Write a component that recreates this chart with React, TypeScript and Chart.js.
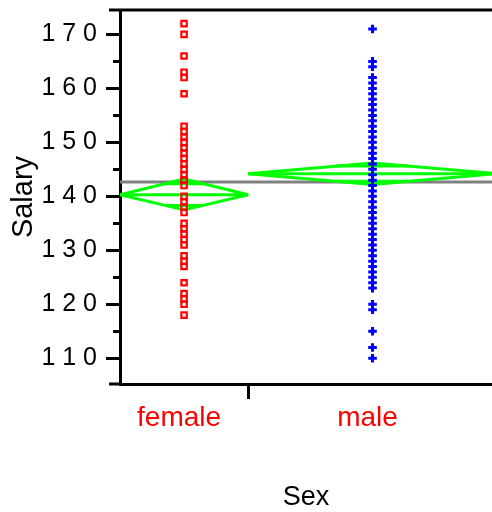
import React, { useEffect, useRef } from 'react';
import { Chart, registerables } from 'chart.js';

Chart.register(...registerables);

// ---- data ----
const groupNames = ['female', 'male'];
const groupWeights = [34, 66]; // relative widths of the groups (proportional to sample size)
const groupMeans = [140.3, 144.2];
const groupLower = [137.5, 142.2];
const groupUpper = [143.2, 146.2];
const grandMean = 142.65;

const femaleSalary = [
  172, 170, 166, 163, 162, 159, 153, 152, 151, 150, 149, 148, 147, 146, 145, 144, 143, 142,
  140, 139, 138, 137, 135, 134, 133, 132, 131, 129, 128, 127, 124, 122, 121, 120, 118,
];
const maleSalary = [
  171, 165, 164, 162, 161, 160, 159, 158, 157, 156, 155, 154, 153, 152, 151, 150, 149, 148,
  147, 146, 145, 144, 143, 142, 141, 140, 139, 138, 137, 136, 135, 134, 133, 132, 131, 130,
  129, 128, 127, 126, 125, 124, 123, 120, 119, 115, 112, 110,
];

const yMajorTicks = [110, 120, 130, 140, 150, 160, 170];
const yMinorTicks = [115, 125, 135, 145, 155, 165];
const yTickLabels = ['1 1 0', '1 2 0', '1 3 0', '1 4 0', '1 5 0', '1 6 0', '1 7 0'];
const yMin = 105.24;
const yMax = 174.52;
const xMax = 98.7;

const FONT = '"Liberation Sans", Arial, sans-serif';
const GREEN = '#00ff00';

export default function App() {
  const ref = useRef<HTMLCanvasElement | null>(null);

  useEffect(() => {
    const canvas = ref.current;
    if (!canvas) return;

    const starts: number[] = [];
    let acc = 0;
    for (const w of groupWeights) {
      starts.push(acc);
      acc += w;
    }
    const ends = groupWeights.map((w, i) => starts[i] + w);
    const centers = groupWeights.map((w, i) => starts[i] + w / 2);

    const datasets: any[] = [];
    const lineBase = {
      type: 'line',
      showLine: true,
      pointRadius: 0,
      fill: false,
      borderJoinStyle: 'bevel',
      tension: 0,
    };

    // grand mean
    datasets.push({
      ...lineBase,
      data: [
        { x: 0, y: grandMean },
        { x: acc, y: grandMean },
      ],
      borderColor: '#808080',
      borderWidth: 3,
      order: 3,
    });

    groupNames.forEach((_, i) => {
      const s = starts[i];
      const e = ends[i];
      const c = centers[i];
      const m = groupMeans[i];
      // diamond
      datasets.push({
        ...lineBase,
        data: [
          { x: s, y: m },
          { x: c, y: groupUpper[i] },
          { x: e, y: m },
          { x: c, y: groupLower[i] },
          { x: s, y: m },
        ],
        borderColor: GREEN,
        borderWidth: 3,
        order: 2,
      });
      // mean line
      datasets.push({
        ...lineBase,
        data: [
          { x: s, y: m },
          { x: e, y: m },
        ],
        borderColor: GREEN,
        borderWidth: 3,
        order: 2,
      });
      // overlap marks
      const hw = (e - s) / 2;
      const f = 1 - Math.SQRT1_2;
      const up = m + (groupUpper[i] - m) * Math.SQRT1_2;
      const lo = m - (m - groupLower[i]) * Math.SQRT1_2;
      datasets.push({
        ...lineBase,
        data: [
          { x: c - hw * f, y: up },
          { x: c + hw * f, y: up },
        ],
        borderColor: GREEN,
        borderWidth: 3,
        order: 2,
      });
      datasets.push({
        ...lineBase,
        data: [
          { x: c - hw * f, y: lo },
          { x: c + hw * f, y: lo },
        ],
        borderColor: GREEN,
        borderWidth: 3,
        order: 2,
      });
    });

    datasets.push({
      type: 'scatter',
      data: femaleSalary.map((v) => ({ x: centers[0], y: v })),
      pointStyle: 'rect',
      pointRadius: 3.8,
      pointBorderWidth: 2.2,
      pointBorderColor: '#ff0000',
      pointBackgroundColor: 'rgba(0,0,0,0)',
      showLine: false,
      order: 0,
    });
    datasets.push({
      type: 'scatter',
      data: maleSalary.map((v) => ({ x: centers[1], y: v })),
      pointStyle: 'cross',
      pointRadius: 4.3,
      pointBorderWidth: 3,
      pointBorderColor: '#0000ff',
      pointBackgroundColor: '#0000ff',
      showLine: false,
      order: 0,
    });

    const framePlugin = {
      id: 'frame',
      afterDraw(chart: any) {
        const { ctx, chartArea, scales } = chart;
        const y = scales.y;
        ctx.save();
        ctx.strokeStyle = '#000';
        ctx.lineWidth = 3;
        ctx.beginPath();
        for (const v of yMinorTicks) {
          const py = Math.round(y.getPixelForValue(v)) + 0.5;
          ctx.moveTo(chartArea.left - 7, py);
          ctx.lineTo(chartArea.left, py);
        }
        ctx.moveTo(chartArea.left - 11, chartArea.top);
        ctx.lineTo(chartArea.right, chartArea.top);
        ctx.moveTo(chartArea.left - 11, chartArea.bottom);
        ctx.lineTo(chartArea.left, chartArea.bottom);
        ctx.stroke();
        ctx.restore();
      },
    };

    const chart = new Chart(canvas, {
      type: 'scatter',
      data: { datasets },
      options: {
        animation: false,
        responsive: false,
        devicePixelRatio: 1,
        layout: { padding: { top: 10, left: 0, right: 0, bottom: 0 }, autoPadding: false },
        plugins: { legend: { display: false }, tooltip: { enabled: false } },
        scales: {
          x: {
            type: 'linear',
            min: 0,
            max: xMax,
            afterFit: (s: any) => {
              s.height = 128;
              s.paddingLeft = 0;
              s.paddingRight = 0;
            },
            afterBuildTicks: (s: any) => {
              s.ticks = [{ value: centers[0] }, { value: ends[0] }, { value: centers[1] }];
            },
            grid: {
              drawOnChartArea: false,
              drawTicks: true,
              tickLength: 15,
              tickWidth: 3,
              tickColor: (ctx: any) => (ctx.index === 1 ? '#000' : 'rgba(0,0,0,0)'),
            },
            border: { display: true, color: '#000', width: 3 },
            ticks: {
              autoSkip: false,
              maxRotation: 0,
              padding: 2,
              labelOffset: -5,
              color: '#ff0000',
              font: { family: FONT, size: 28 },
              callback: (_v: any, idx: number) => (idx === 0 ? groupNames[0] : idx === 2 ? groupNames[1] : ''),
            },
            title: {
              display: true,
              text: 'Sex',
              color: '#000',
              font: { family: FONT, size: 27, lineHeight: 1.1 },
              padding: { top: 0, bottom: 0 },
            },
          },
          y: {
            type: 'linear',
            min: yMin,
            max: yMax,
            afterFit: (s: any) => {
              s.width = 120;
              s.paddingTop = 0;
              s.paddingBottom = 0;
            },
            afterBuildTicks: (s: any) => {
              s.ticks = yMajorTicks.map((v) => ({ value: v }));
            },
            grid: {
              drawOnChartArea: false,
              drawTicks: true,
              tickLength: 14,
              tickWidth: 3,
              tickColor: '#000',
            },
            border: { display: true, color: '#000', width: 3 },
            ticks: {
              autoSkip: false,
              padding: 9,
              color: '#000',
              font: { family: FONT, size: 25 },
              callback: (_v: any, idx: number) => yTickLabels[idx],
            },
            title: {
              display: true,
              text: 'Salary',
              color: '#000',
              font: { family: FONT, size: 29, lineHeight: 1.2 },
              padding: { top: 7, bottom: 0 },
            },
          },
        },
      },
      plugins: [framePlugin],
    } as any);

    return () => chart.destroy();
  }, []);

  return (
    <div style={{ position: 'fixed', left: 0, top: 0, width: 492, height: 512, overflow: 'hidden', background: '#fff' }}>
      <canvas ref={ref} width={492} height={512} style={{ display: 'block', width: 492, height: 512 }} />
    </div>
  );
}
